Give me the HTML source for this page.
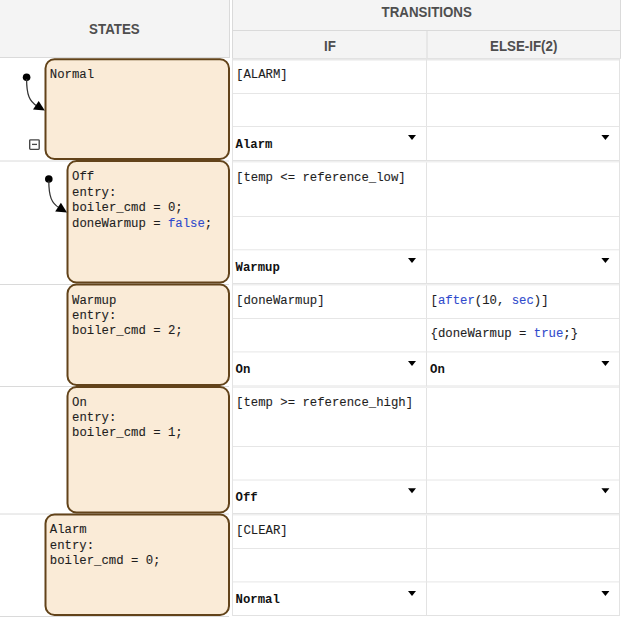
<!DOCTYPE html>
<html><head><meta charset="utf-8">
<style>
html,body{margin:0;padding:0;background:#fff;width:626px;height:626px;overflow:hidden}
svg{display:block}
.m{font-family:"Liberation Mono",monospace;font-size:12.3px;fill:#1e1e1e;stroke:#1e1e1e;stroke-width:0.1}
.b{font-family:"Liberation Mono",monospace;font-size:12.3px;font-weight:bold;fill:#111}
.k{fill:#2f4acc;stroke:#2f4acc}
.h{font-family:"Liberation Sans",sans-serif;font-size:13.33px;font-weight:bold;fill:#4e4e4e}
.st{fill:#faebd7;stroke:#62431a;stroke-width:2}
.gl{stroke:#e6e6e6;stroke-width:1}
.gs{stroke:#e2e2e2;stroke-width:1}
.gs2{stroke:#efefef;stroke-width:1.5}
.gd{stroke:#dadada;stroke-width:1}
.gv{stroke:#e3e3e3;stroke-width:1}
.dd{fill:#000}
</style></head>
<body>
<svg width="626" height="626" viewBox="0 0 626 626">
  <!-- headers -->
  <rect x="0" y="0" width="229" height="57.5" fill="#f4f4f4"/>
  <line x1="0" y1="57.5" x2="229" y2="57.5" class="gd"/>
  <line x1="229.5" y1="0" x2="229.5" y2="58" class="gd"/>
  <rect x="232" y="0" width="389" height="58.5" fill="#f4f4f4"/>
  <line x1="232" y1="30.5" x2="621" y2="30.5" class="gd"/>
  <line x1="232" y1="58.5" x2="621" y2="58.5" stroke="#e2e2e2" stroke-width="1"/>
  <line x1="233" y1="59.5" x2="619" y2="59.5" stroke="#e8e8e8" stroke-width="1"/><line x1="233" y1="60.5" x2="619" y2="60.5" stroke="#f3f3f3" stroke-width="1"/>
  <line x1="620.5" y1="0" x2="620.5" y2="58" class="gd"/>
  <line x1="232.5" y1="0" x2="232.5" y2="58" class="gd"/><line x1="232.5" y1="58" x2="232.5" y2="616" class="gv"/>
  <line x1="427" y1="30" x2="427" y2="58" class="gd"/><line x1="426.5" y1="58" x2="426.5" y2="616" class="gv"/>
  <line x1="619.5" y1="58" x2="619.5" y2="616" class="gv"/>

  <text class="h" transform="translate(114.4,33.5) scale(1,1.15)" text-anchor="middle">STATES</text>
  <text class="h" transform="translate(426.7,16.7) scale(1,1.15)" text-anchor="middle">TRANSITIONS</text>
  <text class="h" transform="translate(329.9,50.5) scale(1,1.15)" text-anchor="middle">IF</text>
  <text class="h" transform="translate(523.7,50.5) scale(1,1.15)" text-anchor="middle">ELSE-IF(2)</text>

  <!-- transitions grid lines -->
  <g>
    <line x1="233" y1="93.5" x2="619" y2="93.5" class="gl"/>
    <line x1="233" y1="126.5" x2="619" y2="126.5" class="gl"/>
    <line x1="233" y1="160.5" x2="619" y2="160.5" class="gs"/>
    <line x1="233" y1="161.75" x2="619" y2="161.75" class="gs2"/>

    <line x1="233" y1="216.5" x2="619" y2="216.5" class="gl"/>
    <line x1="233" y1="249.8" x2="619" y2="249.8" class="gl"/>
    <line x1="233" y1="283.5" x2="619" y2="283.5" class="gs"/>
    <line x1="233" y1="284.75" x2="619" y2="284.75" class="gs2"/>

    <line x1="233" y1="318.5" x2="619" y2="318.5" class="gl"/>
    <line x1="233" y1="351.9" x2="619" y2="351.9" class="gl"/>
    <line x1="233" y1="386" x2="619" y2="386" class="gs"/>
    <line x1="233" y1="387.25" x2="619" y2="387.25" class="gs2"/>

    <line x1="233" y1="446.5" x2="619" y2="446.5" class="gl"/>
    <line x1="233" y1="480.0" x2="619" y2="480.0" class="gl"/>
    <line x1="233" y1="513.5" x2="619" y2="513.5" class="gs"/>
    <line x1="233" y1="514.75" x2="619" y2="514.75" class="gs2"/>

    <line x1="233" y1="548.5" x2="619" y2="548.5" class="gl"/>
    <line x1="233" y1="581.9" x2="619" y2="581.9" class="gl"/>
    <line x1="233" y1="615.5" x2="620" y2="615.5" class="gs"/>
  </g>

  <!-- states column separators -->
  <line x1="0" y1="161" x2="229" y2="161" class="gd"/>
  <line x1="0" y1="284.5" x2="229" y2="284.5" class="gd"/>
  <line x1="0" y1="386.5" x2="229" y2="386.5" class="gd"/>
  <line x1="0" y1="514" x2="229" y2="514" class="gd"/>
  <line x1="0" y1="616.5" x2="229" y2="616.5" class="gd"/>

  <!-- state boxes -->
  <rect class="st" x="45.5" y="59.2" width="183.5" height="99.8" rx="9"/>
  <rect class="st" x="67.5" y="161" width="161.5" height="121.5" rx="9"/>
  <rect class="st" x="67.5" y="284.5" width="161.5" height="100.5" rx="9"/>
  <rect class="st" x="67.5" y="387" width="161.5" height="125.5" rx="9"/>
  <rect class="st" x="45.5" y="514.5" width="183.5" height="100.5" rx="9"/>

  <!-- default transitions -->
  <g id="dt1">
    <circle cx="26.6" cy="77.2" r="3.8" fill="#000"/>
    <path d="M26.6,79 C26.6,95 29.5,101.5 37,106" fill="none" stroke="#333" stroke-width="1.25"/>
    <path d="M33,109.6 L38.7,100.9 L44.8,110.6 Z" fill="#000"/>
  </g>
  <g transform="translate(22.2,101.8)">
    <circle cx="26.6" cy="77.2" r="3.8" fill="#000"/>
    <path d="M26.6,79 C26.6,95 29.5,101.5 37,106" fill="none" stroke="#333" stroke-width="1.25"/>
    <path d="M33,109.6 L38.7,100.9 L44.8,110.6 Z" fill="#000"/>
  </g>

  <!-- collapse icon -->
  <rect x="29.7" y="139.8" width="9.5" height="9.5" rx="0.8" fill="none" stroke="#454545" stroke-width="1.35"/>
  <line x1="32" y1="144.4" x2="37" y2="144.4" stroke="#454545" stroke-width="1.3"/>

  <!-- state texts -->
  <text class="m" x="49.8" y="78.3">Normal</text>

  <text class="m" x="72" y="180.4">Off</text>
  <text class="m" x="72" y="195.8">entry:</text>
  <text class="m" x="72" y="211.1">boiler_cmd = 0;</text>
  <text class="m" x="72" y="226.5">doneWarmup = <tspan class="k">false</tspan>;</text>

  <text class="m" x="72" y="303.7">Warmup</text>
  <text class="m" x="72" y="319.1">entry:</text>
  <text class="m" x="72" y="334.4">boiler_cmd = 2;</text>

  <text class="m" x="72" y="405.7">On</text>
  <text class="m" x="72" y="421.1">entry:</text>
  <text class="m" x="72" y="436.4">boiler_cmd = 1;</text>

  <text class="m" x="49.8" y="533.2">Alarm</text>
  <text class="m" x="49.8" y="548.6">entry:</text>
  <text class="m" x="49.8" y="563.9">boiler_cmd = 0;</text>

  <!-- transition texts -->
  <text class="m" x="236" y="78.4">[ALARM]</text>
  <text class="b" x="235.5" y="148.4">Alarm</text>
  <path class="dd" d="M408,135 L416,135 L412,140 Z"/>
  <path class="dd" d="M601.4,135 L609.4,135 L605.4,140 Z"/>

  <text class="m" x="236" y="180.7">[temp &lt;= reference_low]</text>
  <text class="b" x="235.5" y="271.4">Warmup</text>
  <path class="dd" d="M408,258 L416,258 L412,263 Z"/>
  <path class="dd" d="M601.4,258 L609.4,258 L605.4,263 Z"/>

  <text class="m" x="236" y="303.9">[doneWarmup]</text>
  <text class="m" x="430.5" y="303.9">[<tspan class="k">after</tspan>(10, <tspan class="k">sec</tspan>)]</text>
  <text class="m" x="430.5" y="337.4">{doneWarmup = <tspan class="k">true</tspan>;}</text>
  <text class="b" x="235.5" y="373.3">On</text>
  <text class="b" x="430" y="373.3">On</text>
  <path class="dd" d="M408,361 L416,361 L412,366 Z"/>
  <path class="dd" d="M601.4,361 L609.4,361 L605.4,366 Z"/>

  <text class="m" x="236" y="405.8">[temp &gt;= reference_high]</text>
  <text class="b" x="235.5" y="501.2">Off</text>
  <path class="dd" d="M408,488.2 L416,488.2 L412,493.2 Z"/>
  <path class="dd" d="M601.4,488.2 L609.4,488.2 L605.4,493.2 Z"/>

  <text class="m" x="236" y="533.9">[CLEAR]</text>
  <text class="b" x="235.5" y="603.2">Normal</text>
  <path class="dd" d="M408,591 L416,591 L412,596 Z"/>
  <path class="dd" d="M601.4,591 L609.4,591 L605.4,596 Z"/>
</svg>
</body></html>
